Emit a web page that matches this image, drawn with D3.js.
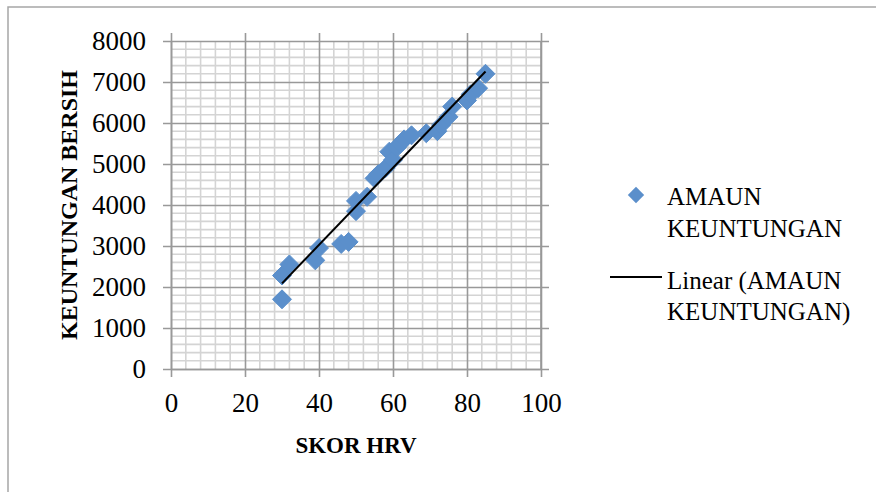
<!DOCTYPE html>
<html>
<head>
<meta charset="utf-8">
<script src="https://cdn.jsdelivr.net/npm/d3@7"></script>
<style>
  body { margin: 0; background: #fff; }
  text { font-family: "Liberation Serif", serif; fill: #000; }
</style>
</head>
<body>
<svg id="chart" width="876" height="492"></svg>
<script>
// skor HRV vs keuntungan bersih
var hrv = [30, 30, 32, 39, 40, 46, 48, 50, 50, 53, 55, 56, 58, 59, 60, 61, 62, 63, 65, 69, 72, 73, 75, 76, 80, 81, 83, 85];
var profit = [1700, 2280, 2550, 2650, 2950, 3050, 3100, 3850, 4100, 4200, 4650, 4750, 4900, 5300, 5100, 5400, 5500, 5600, 5700, 5750, 5800, 5950, 6150, 6400, 6550, 6700, 6850, 7200];
var xTicks = [0, 20, 40, 60, 80, 100];
var yTicks = [0, 1000, 2000, 3000, 4000, 5000, 6000, 7000, 8000];
var legendLabels = [["AMAUN", "KEUNTUNGAN"], ["Linear (AMAUN", "KEUNTUNGAN)"]];

var margin = {top: 41, left: 171};
var width = 370, height = 328;
var blue = "#5b8fcb";

var svg = d3.select("#chart");

// outer frame (runs off the right and bottom)
svg.append("rect")
    .attr("x", 8).attr("y", 7)
    .attr("width", 900).attr("height", 520)
    .attr("fill", "none").attr("stroke", "#a6a6a6").attr("stroke-width", 1.5);

var x = d3.scaleLinear().domain([0, 100]).range([0, width]);
var y = d3.scaleLinear().domain([0, 8000]).range([height, 0]);

var g = svg.append("g")
    .attr("transform", "translate(" + margin.left + "," + margin.top + ")");

// minor grid
var xMinor = d3.range(0, 101, 4).filter(v => v % 20 != 0);
var yMinor = d3.range(0, 8001, 200).filter(v => v % 1000 != 0);
g.append("g").selectAll("line").data(xMinor).enter().append("line")
    .attr("x1", d => x(d)).attr("x2", d => x(d))
    .attr("y1", 0).attr("y2", height)
    .attr("stroke", "#d4d4d4").attr("stroke-width", 1.6);
g.append("g").selectAll("line").data(yMinor).enter().append("line")
    .attr("y1", d => y(d)).attr("y2", d => y(d))
    .attr("x1", 0).attr("x2", width)
    .attr("stroke", "#d4d4d4").attr("stroke-width", 1.6);

// major grid + axes with outward ticks
var xAxis = g.append("g")
    .attr("transform", "translate(0," + height + ")")
    .call(d3.axisBottom(x).tickValues(xTicks).tickSizeInner(-height - 8).tickSizeOuter(0).tickPadding(0));
xAxis.selectAll(".tick line")
    .attr("y1", 8)
    .attr("stroke", "#999").attr("stroke-width", 1.6);
xAxis.select(".domain").attr("stroke", "#999").attr("stroke-width", 1.6);
xAxis.selectAll("text")
    .attr("y", 43).attr("dy", null)
    .style("font-size", "27px").style("font-family", "Liberation Serif");

var yAxis = g.append("g")
    .call(d3.axisLeft(y).tickValues(yTicks).tickFormat(d3.format("d"))
        .tickSizeInner(-width - 8).tickSizeOuter(0).tickPadding(0));
yAxis.selectAll(".tick line")
    .attr("x1", -8)
    .attr("stroke", "#999").attr("stroke-width", 1.6);
yAxis.select(".domain").attr("stroke", "#999").attr("stroke-width", 1.6);
yAxis.selectAll("text")
    .attr("x", -25).attr("dy", "0.33em")
    .style("font-size", "27px").style("font-family", "Liberation Serif");

// right edge of plot
g.append("line")
    .attr("x1", width).attr("x2", width).attr("y1", 0).attr("y2", height)
    .attr("stroke", "#999").attr("stroke-width", 1.6);

// markers
var diamond = d3.symbol().type(d3.symbolDiamond2).size(230);
g.append("g").selectAll("path").data(hrv).enter().append("path")
    .attr("d", diamond)
    .attr("transform", (d, i) => "translate(" + x(d) + "," + y(profit[i]) + ")")
    .attr("fill", blue).attr("stroke", blue).attr("stroke-width", 1);

// linear trend line
var mx = d3.mean(hrv), my = d3.mean(profit);
var sxy = d3.sum(hrv, (d, i) => (d - mx) * (profit[i] - my));
var sxx = d3.sum(hrv, d => (d - mx) * (d - mx));
var slope = sxy / sxx, icpt = my - slope * mx;
var xr = d3.extent(hrv);
g.append("line")
    .attr("x1", x(xr[0])).attr("y1", y(icpt + slope * xr[0]))
    .attr("x2", x(xr[1])).attr("y2", y(icpt + slope * xr[1]))
    .attr("stroke", "#000").attr("stroke-width", 2);

// axis titles
svg.append("text")
    .attr("x", margin.left + width / 2).attr("y", 453)
    .attr("text-anchor", "middle")
    .style("font-weight", "bold").style("font-size", "23px")
    .text("SKOR HRV");
svg.append("text")
    .attr("transform", "translate(77," + (margin.top + height / 2) + ") rotate(-90)")
    .attr("text-anchor", "middle")
    .style("font-weight", "bold").style("font-size", "24px")
    .text("KEUNTUNGAN BERSIH");

// legend
var leg = svg.append("g");
leg.append("path")
    .attr("d", d3.symbol().type(d3.symbolDiamond2).size(170))
    .attr("transform", "translate(636,195)")
    .attr("fill", blue);
leg.append("line")
    .attr("x1", 610).attr("x2", 662).attr("y1", 277).attr("y2", 277)
    .attr("stroke", "#000").attr("stroke-width", 2);
var baselines = [[205, 237], [289, 320]];
legendLabels.forEach(function(lines, i) {
    lines.forEach(function(t, j) {
        leg.append("text")
            .attr("x", 667).attr("y", baselines[i][j])
            .style("font-size", "25px")
            .text(t);
    });
});
</script>
</body>
</html>
